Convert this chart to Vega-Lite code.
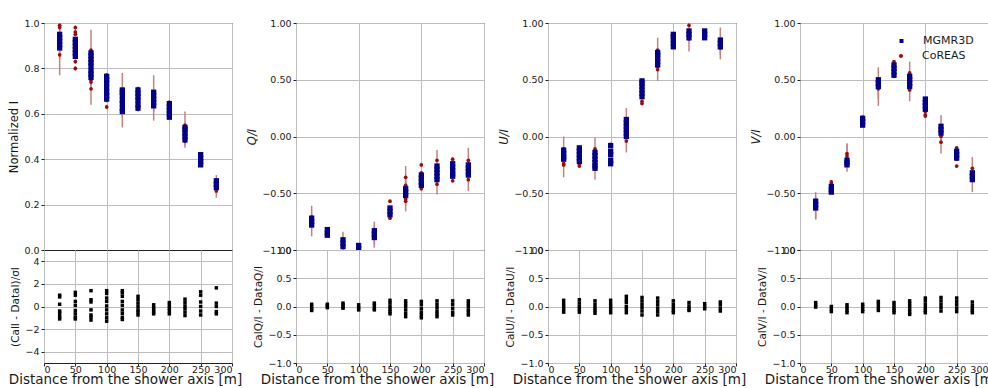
{
  "$schema": "https://vega.github.io/schema/vega-lite/v6.json",
  "background": "white",
  "padding": {"left": 7, "top": 17, "right": 0, "bottom": 0},
  "spacing": 3,
  "resolve": {"scale": {"color": "independent", "shape": "independent"}, "legend": {"color": "independent", "shape": "independent"}},
  "config": {
    "font": "DejaVu Sans",
    "view": {"stroke": "#222222", "strokeWidth": 1},
    "axis": {
      "domain": false, "grid": true, "gridColor": "#bdbdbd", "gridWidth": 1,
      "ticks": true, "tickColor": "#222222", "tickSize": 3, "tickWidth": 1,
      "labelFont": "DejaVu Sans", "labelFontSize": 9.5, "labelColor": "#1a1a1a", "labelPadding": 2,
      "titleFont": "DejaVu Sans", "titleFontSize": 11.5, "titleFontWeight": "normal", "titleColor": "#1a1a1a", "titlePadding": 4
    },
    "axisBottom": {"labelPadding": -2, "titleFontSize": 13.5, "titlePadding": -1, "titleX": 81}
  },
  "datasets": {
    "blue": [
      {"p":"I","d":25,"v":0.89},{"p":"I","d":25,"v":0.905},{"p":"I","d":25,"v":0.92},{"p":"I","d":25,"v":0.935},{"p":"I","d":25,"v":0.95},
      {"p":"I","d":50,"v":0.853},{"p":"I","d":50,"v":0.868},{"p":"I","d":50,"v":0.883},{"p":"I","d":50,"v":0.898},{"p":"I","d":50,"v":0.913},{"p":"I","d":50,"v":0.928},
      {"p":"I","d":75,"v":0.76},{"p":"I","d":75,"v":0.775},{"p":"I","d":75,"v":0.79},{"p":"I","d":75,"v":0.81},{"p":"I","d":75,"v":0.825},{"p":"I","d":75,"v":0.84},{"p":"I","d":75,"v":0.855},{"p":"I","d":75,"v":0.868},
      {"p":"I","d":100,"v":0.665},{"p":"I","d":100,"v":0.68},{"p":"I","d":100,"v":0.695},{"p":"I","d":100,"v":0.715},{"p":"I","d":100,"v":0.735},{"p":"I","d":100,"v":0.75},{"p":"I","d":100,"v":0.765},
      {"p":"I","d":125,"v":0.61},{"p":"I","d":125,"v":0.625},{"p":"I","d":125,"v":0.645},{"p":"I","d":125,"v":0.66},{"p":"I","d":125,"v":0.68},{"p":"I","d":125,"v":0.695},{"p":"I","d":125,"v":0.705},
      {"p":"I","d":150,"v":0.625},{"p":"I","d":150,"v":0.64},{"p":"I","d":150,"v":0.66},{"p":"I","d":150,"v":0.675},{"p":"I","d":150,"v":0.69},{"p":"I","d":150,"v":0.705},
      {"p":"I","d":175,"v":0.635},{"p":"I","d":175,"v":0.65},{"p":"I","d":175,"v":0.665},{"p":"I","d":175,"v":0.68},{"p":"I","d":175,"v":0.695},
      {"p":"I","d":200,"v":0.585},{"p":"I","d":200,"v":0.6},{"p":"I","d":200,"v":0.615},{"p":"I","d":200,"v":0.63},{"p":"I","d":200,"v":0.645},
      {"p":"I","d":225,"v":0.485},{"p":"I","d":225,"v":0.5},{"p":"I","d":225,"v":0.515},{"p":"I","d":225,"v":0.53},{"p":"I","d":225,"v":0.54},
      {"p":"I","d":250,"v":0.375},{"p":"I","d":250,"v":0.39},{"p":"I","d":250,"v":0.405},{"p":"I","d":250,"v":0.42},
      {"p":"I","d":275,"v":0.275},{"p":"I","d":275,"v":0.29},{"p":"I","d":275,"v":0.305},

      {"p":"Q","d":25,"v":-0.72},{"p":"Q","d":25,"v":-0.75},{"p":"Q","d":25,"v":-0.78},
      {"p":"Q","d":50,"v":-0.82},{"p":"Q","d":50,"v":-0.85},{"p":"Q","d":50,"v":-0.87},
      {"p":"Q","d":75,"v":-0.91},{"p":"Q","d":75,"v":-0.94},{"p":"Q","d":75,"v":-0.97},
      {"p":"Q","d":100,"v":-0.96},{"p":"Q","d":100,"v":-0.99},
      {"p":"Q","d":125,"v":-0.83},{"p":"Q","d":125,"v":-0.86},{"p":"Q","d":125,"v":-0.89},
      {"p":"Q","d":150,"v":-0.63},{"p":"Q","d":150,"v":-0.66},{"p":"Q","d":150,"v":-0.69},
      {"p":"Q","d":175,"v":-0.46},{"p":"Q","d":175,"v":-0.49},{"p":"Q","d":175,"v":-0.52},
      {"p":"Q","d":200,"v":-0.34},{"p":"Q","d":200,"v":-0.37},{"p":"Q","d":200,"v":-0.4},{"p":"Q","d":200,"v":-0.43},
      {"p":"Q","d":225,"v":-0.26},{"p":"Q","d":225,"v":-0.29},{"p":"Q","d":225,"v":-0.32},{"p":"Q","d":225,"v":-0.35},{"p":"Q","d":225,"v":-0.38},
      {"p":"Q","d":250,"v":-0.24},{"p":"Q","d":250,"v":-0.27},{"p":"Q","d":250,"v":-0.3},{"p":"Q","d":250,"v":-0.33},{"p":"Q","d":250,"v":-0.35},
      {"p":"Q","d":275,"v":-0.25},{"p":"Q","d":275,"v":-0.28},{"p":"Q","d":275,"v":-0.31},{"p":"Q","d":275,"v":-0.34},

      {"p":"U","d":25,"v":-0.12},{"p":"U","d":25,"v":-0.15},{"p":"U","d":25,"v":-0.18},{"p":"U","d":25,"v":-0.2},
      {"p":"U","d":50,"v":-0.1},{"p":"U","d":50,"v":-0.13},{"p":"U","d":50,"v":-0.16},{"p":"U","d":50,"v":-0.19},{"p":"U","d":50,"v":-0.22},
      {"p":"U","d":75,"v":-0.14},{"p":"U","d":75,"v":-0.17},{"p":"U","d":75,"v":-0.2},{"p":"U","d":75,"v":-0.23},{"p":"U","d":75,"v":-0.26},{"p":"U","d":75,"v":-0.28},
      {"p":"U","d":100,"v":-0.08},{"p":"U","d":100,"v":-0.13},{"p":"U","d":100,"v":-0.16},{"p":"U","d":100,"v":-0.21},{"p":"U","d":100,"v":-0.24},
      {"p":"U","d":125,"v":0.0},{"p":"U","d":125,"v":0.03},{"p":"U","d":125,"v":0.06},{"p":"U","d":125,"v":0.09},{"p":"U","d":125,"v":0.12},{"p":"U","d":125,"v":0.15},
      {"p":"U","d":150,"v":0.35},{"p":"U","d":150,"v":0.38},{"p":"U","d":150,"v":0.41},{"p":"U","d":150,"v":0.44},{"p":"U","d":150,"v":0.47},{"p":"U","d":150,"v":0.49},
      {"p":"U","d":175,"v":0.63},{"p":"U","d":175,"v":0.66},{"p":"U","d":175,"v":0.69},{"p":"U","d":175,"v":0.72},{"p":"U","d":175,"v":0.74},
      {"p":"U","d":200,"v":0.79},{"p":"U","d":200,"v":0.82},{"p":"U","d":200,"v":0.85},{"p":"U","d":200,"v":0.88},{"p":"U","d":200,"v":0.9},
      {"p":"U","d":225,"v":0.87},{"p":"U","d":225,"v":0.9},{"p":"U","d":225,"v":0.93},
      {"p":"U","d":250,"v":0.87},{"p":"U","d":250,"v":0.9},{"p":"U","d":250,"v":0.93},
      {"p":"U","d":275,"v":0.79},{"p":"U","d":275,"v":0.82},{"p":"U","d":275,"v":0.85},

      {"p":"V","d":25,"v":-0.57},{"p":"V","d":25,"v":-0.6},{"p":"V","d":25,"v":-0.63},
      {"p":"V","d":50,"v":-0.44},{"p":"V","d":50,"v":-0.47},{"p":"V","d":50,"v":-0.49},
      {"p":"V","d":75,"v":-0.21},{"p":"V","d":75,"v":-0.23},{"p":"V","d":75,"v":-0.25},
      {"p":"V","d":100,"v":0.1},{"p":"V","d":100,"v":0.13},{"p":"V","d":100,"v":0.16},
      {"p":"V","d":125,"v":0.44},{"p":"V","d":125,"v":0.47},{"p":"V","d":125,"v":0.5},
      {"p":"V","d":150,"v":0.54},{"p":"V","d":150,"v":0.57},{"p":"V","d":150,"v":0.6},{"p":"V","d":150,"v":0.63},
      {"p":"V","d":175,"v":0.44},{"p":"V","d":175,"v":0.47},{"p":"V","d":175,"v":0.5},{"p":"V","d":175,"v":0.53},
      {"p":"V","d":200,"v":0.24},{"p":"V","d":200,"v":0.27},{"p":"V","d":200,"v":0.3},{"p":"V","d":200,"v":0.33},
      {"p":"V","d":225,"v":0.03},{"p":"V","d":225,"v":0.06},{"p":"V","d":225,"v":0.09},
      {"p":"V","d":250,"v":-0.13},{"p":"V","d":250,"v":-0.16},{"p":"V","d":250,"v":-0.19},
      {"p":"V","d":275,"v":-0.32},{"p":"V","d":275,"v":-0.35},{"p":"V","d":275,"v":-0.38}
    ],
    "red": [
      {"p":"I","d":25,"v":0.99,"e":0.01},{"p":"I","d":25,"v":0.98,"e":0.02},{"p":"I","d":25,"v":0.93,"e":0.09},{"p":"I","d":25,"v":0.86,"e":0.09},
      {"p":"I","d":50,"v":0.98,"e":0.01},{"p":"I","d":50,"v":0.96,"e":0.01},{"p":"I","d":50,"v":0.95,"e":0.01},{"p":"I","d":50,"v":0.88,"e":0.01},{"p":"I","d":50,"v":0.85,"e":0.01},{"p":"I","d":50,"v":0.83,"e":0.01},{"p":"I","d":50,"v":0.8,"e":0.01},
      {"p":"I","d":75,"v":0.88,"e":0.09},{"p":"I","d":75,"v":0.86,"e":0.02},{"p":"I","d":75,"v":0.82,"e":0.02},{"p":"I","d":75,"v":0.79,"e":0.02},{"p":"I","d":75,"v":0.75,"e":0.02},{"p":"I","d":75,"v":0.74,"e":0.02},{"p":"I","d":75,"v":0.71,"e":0.07},
      {"p":"I","d":100,"v":0.77,"e":0.01},{"p":"I","d":100,"v":0.75,"e":0.01},{"p":"I","d":100,"v":0.68,"e":0.01},{"p":"I","d":100,"v":0.66,"e":0.01},{"p":"I","d":100,"v":0.63,"e":0.01},
      {"p":"I","d":125,"v":0.7,"e":0.08},{"p":"I","d":125,"v":0.67,"e":0.03},{"p":"I","d":125,"v":0.62,"e":0.08},{"p":"I","d":125,"v":0.61,"e":0.02},
      {"p":"I","d":150,"v":0.71,"e":0.01},{"p":"I","d":150,"v":0.69,"e":0.01},{"p":"I","d":150,"v":0.68,"e":0.01},{"p":"I","d":150,"v":0.63,"e":0.01},{"p":"I","d":150,"v":0.62,"e":0.01},
      {"p":"I","d":175,"v":0.69,"e":0.08},{"p":"I","d":175,"v":0.64,"e":0.07},
      {"p":"I","d":200,"v":0.65,"e":0.01},{"p":"I","d":200,"v":0.62,"e":0.01},{"p":"I","d":200,"v":0.6,"e":0.01},
      {"p":"I","d":225,"v":0.55,"e":0.06},{"p":"I","d":225,"v":0.5,"e":0.04},{"p":"I","d":225,"v":0.48,"e":0.03},
      {"p":"I","d":250,"v":0.42,"e":0.01},{"p":"I","d":250,"v":0.38,"e":0.01},
      {"p":"I","d":275,"v":0.29,"e":0.04},{"p":"I","d":275,"v":0.26,"e":0.03},

      {"p":"Q","d":25,"v":-0.71,"e":0.1},{"p":"Q","d":25,"v":-0.78,"e":0.1},
      {"p":"Q","d":50,"v":-0.87,"e":0.01},
      {"p":"Q","d":75,"v":-0.96,"e":0.12},
      {"p":"Q","d":100,"v":-0.98,"e":0.01},
      {"p":"Q","d":125,"v":-0.88,"e":0.1},{"p":"Q","d":125,"v":-0.85,"e":0.1},
      {"p":"Q","d":150,"v":-0.57,"e":0.01},{"p":"Q","d":150,"v":-0.72,"e":0.01},
      {"p":"Q","d":175,"v":-0.36,"e":0.1},{"p":"Q","d":175,"v":-0.43,"e":0.05},{"p":"Q","d":175,"v":-0.45,"e":0.05},{"p":"Q","d":175,"v":-0.55,"e":0.05},{"p":"Q","d":175,"v":-0.57,"e":0.09},
      {"p":"Q","d":200,"v":-0.25,"e":0.01},{"p":"Q","d":200,"v":-0.32,"e":0.01},{"p":"Q","d":200,"v":-0.46,"e":0.01},
      {"p":"Q","d":225,"v":-0.21,"e":0.09},{"p":"Q","d":225,"v":-0.42,"e":0.09},
      {"p":"Q","d":250,"v":-0.2,"e":0.01},{"p":"Q","d":250,"v":-0.39,"e":0.01},
      {"p":"Q","d":275,"v":-0.21,"e":0.11},{"p":"Q","d":275,"v":-0.38,"e":0.1},

      {"p":"U","d":25,"v":-0.11,"e":0.11},{"p":"U","d":25,"v":-0.24,"e":0.12},{"p":"U","d":25,"v":-0.25,"e":0.02},
      {"p":"U","d":50,"v":-0.1,"e":0.01},{"p":"U","d":50,"v":-0.24,"e":0.01},{"p":"U","d":50,"v":-0.26,"e":0.01},
      {"p":"U","d":75,"v":-0.11,"e":0.1},{"p":"U","d":75,"v":-0.28,"e":0.1},
      {"p":"U","d":100,"v":-0.07,"e":0.01},
      {"p":"U","d":125,"v":-0.04,"e":0.1},{"p":"U","d":125,"v":0.13,"e":0.12},
      {"p":"U","d":150,"v":0.47,"e":0.01},{"p":"U","d":150,"v":0.31,"e":0.01},{"p":"U","d":150,"v":0.29,"e":0.01},
      {"p":"U","d":175,"v":0.76,"e":0.11},{"p":"U","d":175,"v":0.62,"e":0.05},{"p":"U","d":175,"v":0.59,"e":0.1},
      {"p":"U","d":200,"v":0.89,"e":0.01},{"p":"U","d":200,"v":0.79,"e":0.01},
      {"p":"U","d":225,"v":0.98,"e":0.02},{"p":"U","d":225,"v":0.86,"e":0.11},
      {"p":"U","d":250,"v":0.87,"e":0.01},{"p":"U","d":250,"v":0.91,"e":0.01},
      {"p":"U","d":275,"v":0.84,"e":0.12},{"p":"U","d":275,"v":0.78,"e":0.1},

      {"p":"V","d":25,"v":-0.61,"e":0.12},{"p":"V","d":25,"v":-0.63,"e":0.1},
      {"p":"V","d":50,"v":-0.4,"e":0.01},{"p":"V","d":50,"v":-0.42,"e":0.01},
      {"p":"V","d":75,"v":-0.15,"e":0.09},{"p":"V","d":75,"v":-0.17,"e":0.03},{"p":"V","d":75,"v":-0.19,"e":0.12},
      {"p":"V","d":100,"v":0.17,"e":0.01},{"p":"V","d":100,"v":0.14,"e":0.01},
      {"p":"V","d":125,"v":0.44,"e":0.17},{"p":"V","d":125,"v":0.42,"e":0.09},
      {"p":"V","d":150,"v":0.66,"e":0.01},{"p":"V","d":150,"v":0.53,"e":0.01},
      {"p":"V","d":175,"v":0.56,"e":0.1},{"p":"V","d":175,"v":0.41,"e":0.1},
      {"p":"V","d":200,"v":0.22,"e":0.01},{"p":"V","d":200,"v":0.19,"e":0.01},{"p":"V","d":200,"v":0.18,"e":0.01},
      {"p":"V","d":225,"v":0.07,"e":0.12},{"p":"V","d":225,"v":0.02,"e":0.03},{"p":"V","d":225,"v":0.0,"e":0.03},{"p":"V","d":225,"v":-0.05,"e":0.1},
      {"p":"V","d":250,"v":-0.1,"e":0.01},{"p":"V","d":250,"v":-0.2,"e":0.01},{"p":"V","d":250,"v":-0.26,"e":0.01},
      {"p":"V","d":275,"v":-0.28,"e":0.1},{"p":"V","d":275,"v":-0.36,"e":0.02},{"p":"V","d":275,"v":-0.38,"e":0.11}
    ],
    "res": [
      {"p":"I","d":25,"r":1.0},{"p":"I","d":25,"r":0.85},{"p":"I","d":25,"r":0.2},{"p":"I","d":25,"r":-0.4},{"p":"I","d":25,"r":-0.6},{"p":"I","d":25,"r":-0.9},{"p":"I","d":25,"r":-1.1},
      {"p":"I","d":50,"r":1.25},{"p":"I","d":50,"r":1.0},{"p":"I","d":50,"r":0.45},{"p":"I","d":50,"r":0.1},{"p":"I","d":50,"r":-0.35},{"p":"I","d":50,"r":-0.65},{"p":"I","d":50,"r":-0.95},{"p":"I","d":50,"r":-1.1},
      {"p":"I","d":75,"r":1.4},{"p":"I","d":75,"r":0.6},{"p":"I","d":75,"r":0.4},{"p":"I","d":75,"r":-0.3},{"p":"I","d":75,"r":-0.75},{"p":"I","d":75,"r":-0.95},{"p":"I","d":75,"r":-1.2},
      {"p":"I","d":100,"r":1.4},{"p":"I","d":100,"r":1.15},{"p":"I","d":100,"r":0.75},{"p":"I","d":100,"r":0.45},{"p":"I","d":100,"r":0.05},{"p":"I","d":100,"r":-0.3},{"p":"I","d":100,"r":-0.65},{"p":"I","d":100,"r":-1.0},{"p":"I","d":100,"r":-1.3},
      {"p":"I","d":125,"r":1.4},{"p":"I","d":125,"r":1.2},{"p":"I","d":125,"r":0.9},{"p":"I","d":125,"r":0.45},{"p":"I","d":125,"r":0.1},{"p":"I","d":125,"r":-0.3},{"p":"I","d":125,"r":-0.6},{"p":"I","d":125,"r":-0.95},{"p":"I","d":125,"r":-1.15},
      {"p":"I","d":150,"r":0.9},{"p":"I","d":150,"r":0.6},{"p":"I","d":150,"r":0.3},{"p":"I","d":150,"r":0.0},{"p":"I","d":150,"r":-0.3},{"p":"I","d":150,"r":-0.5},{"p":"I","d":150,"r":-0.75},
      {"p":"I","d":175,"r":0.15},{"p":"I","d":175,"r":-0.1},{"p":"I","d":175,"r":-0.3},{"p":"I","d":175,"r":-0.5},{"p":"I","d":175,"r":-0.65},
      {"p":"I","d":200,"r":0.35},{"p":"I","d":200,"r":0.1},{"p":"I","d":200,"r":-0.15},{"p":"I","d":200,"r":-0.4},{"p":"I","d":200,"r":-0.65},
      {"p":"I","d":225,"r":0.65},{"p":"I","d":225,"r":0.35},{"p":"I","d":225,"r":0.05},{"p":"I","d":225,"r":-0.2},{"p":"I","d":225,"r":-0.5},{"p":"I","d":225,"r":-0.8},
      {"p":"I","d":250,"r":1.3},{"p":"I","d":250,"r":1.0},{"p":"I","d":250,"r":0.4},{"p":"I","d":250,"r":0.0},{"p":"I","d":250,"r":-0.4},{"p":"I","d":250,"r":-0.75},
      {"p":"I","d":275,"r":1.65},{"p":"I","d":275,"r":0.3},{"p":"I","d":275,"r":0.0},{"p":"I","d":275,"r":-0.45},{"p":"I","d":275,"r":-0.65},

      {"p":"Q","d":25,"r":0.04},{"p":"Q","d":25,"r":0.0},{"p":"Q","d":25,"r":-0.04},{"p":"Q","d":25,"r":-0.07},
      {"p":"Q","d":50,"r":0.04},{"p":"Q","d":50,"r":0.01},{"p":"Q","d":50,"r":-0.02},
      {"p":"Q","d":75,"r":0.06},{"p":"Q","d":75,"r":0.03},{"p":"Q","d":75,"r":-0.01},{"p":"Q","d":75,"r":-0.03},
      {"p":"Q","d":100,"r":0.03},{"p":"Q","d":100,"r":-0.02},{"p":"Q","d":100,"r":-0.06},
      {"p":"Q","d":125,"r":0.06},{"p":"Q","d":125,"r":0.02},{"p":"Q","d":125,"r":-0.03},{"p":"Q","d":125,"r":-0.06},
      {"p":"Q","d":150,"r":0.11},{"p":"Q","d":150,"r":0.06},{"p":"Q","d":150,"r":0.0},{"p":"Q","d":150,"r":-0.05},{"p":"Q","d":150,"r":-0.09},{"p":"Q","d":150,"r":-0.13},
      {"p":"Q","d":175,"r":0.1},{"p":"Q","d":175,"r":0.05},{"p":"Q","d":175,"r":0.0},{"p":"Q","d":175,"r":-0.06},{"p":"Q","d":175,"r":-0.12},{"p":"Q","d":175,"r":-0.18},
      {"p":"Q","d":200,"r":0.09},{"p":"Q","d":200,"r":0.03},{"p":"Q","d":200,"r":-0.04},{"p":"Q","d":200,"r":-0.1},{"p":"Q","d":200,"r":-0.15},{"p":"Q","d":200,"r":-0.2},
      {"p":"Q","d":225,"r":0.1},{"p":"Q","d":225,"r":0.04},{"p":"Q","d":225,"r":-0.02},{"p":"Q","d":225,"r":-0.08},{"p":"Q","d":225,"r":-0.13},{"p":"Q","d":225,"r":-0.18},
      {"p":"Q","d":250,"r":0.1},{"p":"Q","d":250,"r":0.04},{"p":"Q","d":250,"r":-0.03},{"p":"Q","d":250,"r":-0.1},{"p":"Q","d":250,"r":-0.15},
      {"p":"Q","d":275,"r":0.1},{"p":"Q","d":275,"r":0.05},{"p":"Q","d":275,"r":0.0},{"p":"Q","d":275,"r":-0.06},{"p":"Q","d":275,"r":-0.1},{"p":"Q","d":275,"r":-0.15},

      {"p":"U","d":25,"r":0.11},{"p":"U","d":25,"r":0.05},{"p":"U","d":25,"r":0.0},{"p":"U","d":25,"r":-0.05},{"p":"U","d":25,"r":-0.1},
      {"p":"U","d":50,"r":0.12},{"p":"U","d":50,"r":0.06},{"p":"U","d":50,"r":0.0},{"p":"U","d":50,"r":-0.05},{"p":"U","d":50,"r":-0.1},
      {"p":"U","d":75,"r":0.1},{"p":"U","d":75,"r":0.04},{"p":"U","d":75,"r":-0.02},{"p":"U","d":75,"r":-0.07},{"p":"U","d":75,"r":-0.12},
      {"p":"U","d":100,"r":0.11},{"p":"U","d":100,"r":0.05},{"p":"U","d":100,"r":0.0},{"p":"U","d":100,"r":-0.05},{"p":"U","d":100,"r":-0.11},
      {"p":"U","d":125,"r":0.18},{"p":"U","d":125,"r":0.12},{"p":"U","d":125,"r":0.07},{"p":"U","d":125,"r":0.0},{"p":"U","d":125,"r":-0.05},{"p":"U","d":125,"r":-0.11},
      {"p":"U","d":150,"r":0.16},{"p":"U","d":150,"r":0.1},{"p":"U","d":150,"r":0.04},{"p":"U","d":150,"r":-0.02},{"p":"U","d":150,"r":-0.08},{"p":"U","d":150,"r":-0.15},
      {"p":"U","d":175,"r":0.15},{"p":"U","d":175,"r":0.09},{"p":"U","d":175,"r":0.03},{"p":"U","d":175,"r":-0.03},{"p":"U","d":175,"r":-0.09},{"p":"U","d":175,"r":-0.15},
      {"p":"U","d":200,"r":0.1},{"p":"U","d":200,"r":0.04},{"p":"U","d":200,"r":-0.02},{"p":"U","d":200,"r":-0.07},{"p":"U","d":200,"r":-0.11},
      {"p":"U","d":225,"r":0.07},{"p":"U","d":225,"r":0.01},{"p":"U","d":225,"r":-0.04},{"p":"U","d":225,"r":-0.07},
      {"p":"U","d":250,"r":0.05},{"p":"U","d":250,"r":0.0},{"p":"U","d":250,"r":-0.04},
      {"p":"U","d":275,"r":0.08},{"p":"U","d":275,"r":0.03},{"p":"U","d":275,"r":-0.03},{"p":"U","d":275,"r":-0.08},

      {"p":"V","d":25,"r":0.07},{"p":"V","d":25,"r":0.03},{"p":"V","d":25,"r":-0.01},
      {"p":"V","d":50,"r":0.0},{"p":"V","d":50,"r":-0.05},{"p":"V","d":50,"r":-0.09},
      {"p":"V","d":75,"r":0.03},{"p":"V","d":75,"r":-0.02},{"p":"V","d":75,"r":-0.07},{"p":"V","d":75,"r":-0.11},
      {"p":"V","d":100,"r":0.04},{"p":"V","d":100,"r":0.0},{"p":"V","d":100,"r":-0.05},{"p":"V","d":100,"r":-0.09},
      {"p":"V","d":125,"r":0.09},{"p":"V","d":125,"r":0.04},{"p":"V","d":125,"r":-0.02},{"p":"V","d":125,"r":-0.07},
      {"p":"V","d":150,"r":0.07},{"p":"V","d":150,"r":0.02},{"p":"V","d":150,"r":-0.03},{"p":"V","d":150,"r":-0.07},{"p":"V","d":150,"r":-0.11},
      {"p":"V","d":175,"r":0.1},{"p":"V","d":175,"r":0.05},{"p":"V","d":175,"r":0.0},{"p":"V","d":175,"r":-0.05},{"p":"V","d":175,"r":-0.1},{"p":"V","d":175,"r":-0.14},
      {"p":"V","d":200,"r":0.15},{"p":"V","d":200,"r":0.1},{"p":"V","d":200,"r":0.04},{"p":"V","d":200,"r":-0.02},{"p":"V","d":200,"r":-0.07},{"p":"V","d":200,"r":-0.11},
      {"p":"V","d":225,"r":0.16},{"p":"V","d":225,"r":0.1},{"p":"V","d":225,"r":0.04},{"p":"V","d":225,"r":-0.02},{"p":"V","d":225,"r":-0.08},
      {"p":"V","d":250,"r":0.15},{"p":"V","d":250,"r":0.09},{"p":"V","d":250,"r":0.03},{"p":"V","d":250,"r":-0.03},{"p":"V","d":250,"r":-0.09},
      {"p":"V","d":275,"r":0.08},{"p":"V","d":275,"r":0.02},{"p":"V","d":275,"r":-0.03},{"p":"V","d":275,"r":-0.07},{"p":"V","d":275,"r":-0.11}
    ]
  },
  "hconcat": [
    {
      "vconcat": [
        {
          "width": 188, "height": 227,
          "layer": [
            {"data": {"name": "red"}, "transform": [{"filter": "datum.p === 'I'"}],
             "mark": {"type": "errorbar", "color": "#c4837e", "thickness": 1.5, "clip": true},
             "encoding": {
               "x": {"field": "d", "type": "quantitative", "scale": {"domain": [0, 300], "nice": false}, "axis": {"values": [0,50,100,150,200,250,300], "labels": false, "ticks": false, "title": null}},
               "y": {"field": "v", "type": "quantitative", "scale": {"domain": [0, 1], "nice": false}, "axis": {"values": [0,0.2,0.4,0.6,0.8,1.0], "format": ".1f", "title": "Normalized I"}},
               "yError": {"field": "e"}}},
            {"data": {"name": "red"}, "transform": [{"filter": "datum.p === 'I'"}],
             "mark": {"type": "circle", "color": "#9c0c0c", "size": 14, "opacity": 1, "clip": true},
             "encoding": {"x": {"field": "d", "type": "quantitative"}, "y": {"field": "v", "type": "quantitative"}}},
            {"data": {"name": "blue"}, "transform": [{"filter": "datum.p === 'I'"}],
             "mark": {"type": "square", "color": "#00008b", "size": 28, "opacity": 1, "clip": true},
             "encoding": {"x": {"field": "d", "type": "quantitative"}, "y": {"field": "v", "type": "quantitative"}}}
          ]
        },
        {
          "width": 188, "height": 113,
          "data": {"name": "res"}, "transform": [{"filter": "datum.p === 'I'"}],
          "mark": {"type": "square", "color": "black", "size": 12, "opacity": 1},
          "encoding": {
            "x": {"field": "d", "type": "quantitative", "scale": {"domain": [0, 300], "nice": false}, "axis": {"values": [0,50,100,150,200,250,300], "title": "Distance from the shower axis [m]"}},
            "y": {"field": "r", "type": "quantitative", "scale": {"domain": [-5, 5], "nice": false}, "axis": {"values": [-4,-2,0,2,4], "format": "d", "title": "(CalI - DataI)/σI", "titleFontSize": 10.5}}
          }
        }
      ],
      "spacing": 0, "bounds": "flush"
    },
    {
      "vconcat": [
        {
          "width": 188, "height": 227,
          "layer": [
            {"data": {"name": "red"}, "transform": [{"filter": "datum.p === 'Q'"}],
             "mark": {"type": "errorbar", "color": "#c4837e", "thickness": 1.5, "clip": true},
             "encoding": {
               "x": {"field": "d", "type": "quantitative", "scale": {"domain": [0, 300], "nice": false}, "axis": {"values": [0,50,100,150,200,250,300], "labels": false, "ticks": false, "title": null}},
               "y": {"field": "v", "type": "quantitative", "scale": {"domain": [-1, 1], "nice": false}, "axis": {"values": [-1,-0.75,-0.5,-0.25,0,0.25,0.5,0.75,1], "format": ".2f", "title": "Q/I", "titleFontStyle": "italic"}},
               "yError": {"field": "e"}}},
            {"data": {"name": "red"}, "transform": [{"filter": "datum.p === 'Q'"}],
             "mark": {"type": "circle", "color": "#9c0c0c", "size": 14, "opacity": 1, "clip": true},
             "encoding": {"x": {"field": "d", "type": "quantitative"}, "y": {"field": "v", "type": "quantitative"}}},
            {"data": {"name": "blue"}, "transform": [{"filter": "datum.p === 'Q'"}],
             "mark": {"type": "square", "color": "#00008b", "size": 28, "opacity": 1, "clip": true},
             "encoding": {"x": {"field": "d", "type": "quantitative"}, "y": {"field": "v", "type": "quantitative"}}}
          ]
        },
        {
          "width": 188, "height": 113,
          "data": {"name": "res"}, "transform": [{"filter": "datum.p === 'Q'"}],
          "mark": {"type": "square", "color": "black", "size": 12, "opacity": 1},
          "encoding": {
            "x": {"field": "d", "type": "quantitative", "scale": {"domain": [0, 300], "nice": false}, "axis": {"values": [0,50,100,150,200,250,300], "title": "Distance from the shower axis [m]"}},
            "y": {"field": "r", "type": "quantitative", "scale": {"domain": [-1, 1], "nice": false}, "axis": {"values": [-1,-0.5,0,0.5,1], "format": ".1f", "title": "CalQ/I - DataQ/I", "titleFontSize": 10.5}}
          }
        }
      ],
      "spacing": 0, "bounds": "flush"
    },
    {
      "vconcat": [
        {
          "width": 188, "height": 227,
          "layer": [
            {"data": {"name": "red"}, "transform": [{"filter": "datum.p === 'U'"}],
             "mark": {"type": "errorbar", "color": "#c4837e", "thickness": 1.5, "clip": true},
             "encoding": {
               "x": {"field": "d", "type": "quantitative", "scale": {"domain": [0, 300], "nice": false}, "axis": {"values": [0,50,100,150,200,250,300], "labels": false, "ticks": false, "title": null}},
               "y": {"field": "v", "type": "quantitative", "scale": {"domain": [-1, 1], "nice": false}, "axis": {"values": [-1,-0.75,-0.5,-0.25,0,0.25,0.5,0.75,1], "format": ".2f", "title": "U/I", "titleFontStyle": "italic"}},
               "yError": {"field": "e"}}},
            {"data": {"name": "red"}, "transform": [{"filter": "datum.p === 'U'"}],
             "mark": {"type": "circle", "color": "#9c0c0c", "size": 14, "opacity": 1, "clip": true},
             "encoding": {"x": {"field": "d", "type": "quantitative"}, "y": {"field": "v", "type": "quantitative"}}},
            {"data": {"name": "blue"}, "transform": [{"filter": "datum.p === 'U'"}],
             "mark": {"type": "square", "color": "#00008b", "size": 28, "opacity": 1, "clip": true},
             "encoding": {"x": {"field": "d", "type": "quantitative"}, "y": {"field": "v", "type": "quantitative"}}}
          ]
        },
        {
          "width": 188, "height": 113,
          "data": {"name": "res"}, "transform": [{"filter": "datum.p === 'U'"}],
          "mark": {"type": "square", "color": "black", "size": 12, "opacity": 1},
          "encoding": {
            "x": {"field": "d", "type": "quantitative", "scale": {"domain": [0, 300], "nice": false}, "axis": {"values": [0,50,100,150,200,250,300], "title": "Distance from the shower axis [m]"}},
            "y": {"field": "r", "type": "quantitative", "scale": {"domain": [-1, 1], "nice": false}, "axis": {"values": [-1,-0.5,0,0.5,1], "format": ".1f", "title": "CalU/I - DataU/I", "titleFontSize": 10.5}}
          }
        }
      ],
      "spacing": 0, "bounds": "flush"
    },
    {
      "vconcat": [
        {
          "width": 188, "height": 227,
          "layer": [
            {"data": {"name": "red"}, "transform": [{"filter": "datum.p === 'V'"}],
             "mark": {"type": "errorbar", "color": "#c4837e", "thickness": 1.5, "clip": true},
             "encoding": {
               "x": {"field": "d", "type": "quantitative", "scale": {"domain": [0, 300], "nice": false}, "axis": {"values": [0,50,100,150,200,250,300], "labels": false, "ticks": false, "title": null}},
               "y": {"field": "v", "type": "quantitative", "scale": {"domain": [-1, 1], "nice": false}, "axis": {"values": [-1,-0.75,-0.5,-0.25,0,0.25,0.5,0.75,1], "format": ".2f", "title": "V/I", "titleFontStyle": "italic"}},
               "yError": {"field": "e"}}},
            {"data": {"name": "red"}, "transform": [{"filter": "datum.p === 'V'"}],
             "mark": {"type": "circle", "color": "#9c0c0c", "size": 14, "opacity": 1, "clip": true},
             "encoding": {"x": {"field": "d", "type": "quantitative"}, "y": {"field": "v", "type": "quantitative"}}},
            {"data": {"name": "blue"}, "transform": [{"filter": "datum.p === 'V'"}],
             "mark": {"type": "square", "size": 28, "opacity": 1, "clip": true},
             "encoding": {"x": {"field": "d", "type": "quantitative"}, "y": {"field": "v", "type": "quantitative"},
               "color": {"datum": "MGMR3D", "type": "nominal", "scale": {"range": ["#00008b"]},
                 "legend": {"orient": "none", "legendX": 96, "legendY": 12.5, "title": null, "labelFontSize": 11, "labelColor": "#1a1a1a", "labelOffset": 16, "symbolSize": 16, "symbolType": "square"}}}},
            {"data": {"name": "red"}, "transform": [{"filter": "datum.p === 'V' && datum.d > 300"}],
             "mark": {"type": "point", "filled": true, "fill": "#9c0c0c", "stroke": "#c4837e", "strokeWidth": 1.5, "size": 14, "opacity": 1, "clip": true},
             "encoding": {"x": {"field": "d", "type": "quantitative"}, "y": {"field": "v", "type": "quantitative"},
               "shape": {"datum": "CoREAS", "type": "nominal", "scale": {"range": ["M0,-1V1M-0.36,0A0.36,0.36,0,1,0,0.36,0A0.36,0.36,0,1,0,-0.36,0Z"]},
                 "legend": {"orient": "none", "legendX": 94.5, "legendY": 26.5, "title": null, "labelFontSize": 11, "labelColor": "#1a1a1a", "labelOffset": 14.5, "symbolSize": 121, "symbolOpacity": 1, "symbolFillColor": "#9c0c0c", "symbolStrokeColor": "#c4837e", "symbolStrokeWidth": 1.5}}}}
          ]
        },
        {
          "width": 188, "height": 113,
          "data": {"name": "res"}, "transform": [{"filter": "datum.p === 'V'"}],
          "mark": {"type": "square", "color": "black", "size": 12, "opacity": 1},
          "encoding": {
            "x": {"field": "d", "type": "quantitative", "scale": {"domain": [0, 300], "nice": false}, "axis": {"values": [0,50,100,150,200,250,300], "title": "Distance from the shower axis [m]"}},
            "y": {"field": "r", "type": "quantitative", "scale": {"domain": [-1, 1], "nice": false}, "axis": {"values": [-1,-0.5,0,0.5,1], "format": ".1f", "title": "CalV/I - DataV/I", "titleFontSize": 10.5}}
          }
        }
      ],
      "spacing": 0, "bounds": "flush"
    }
  ]
}
